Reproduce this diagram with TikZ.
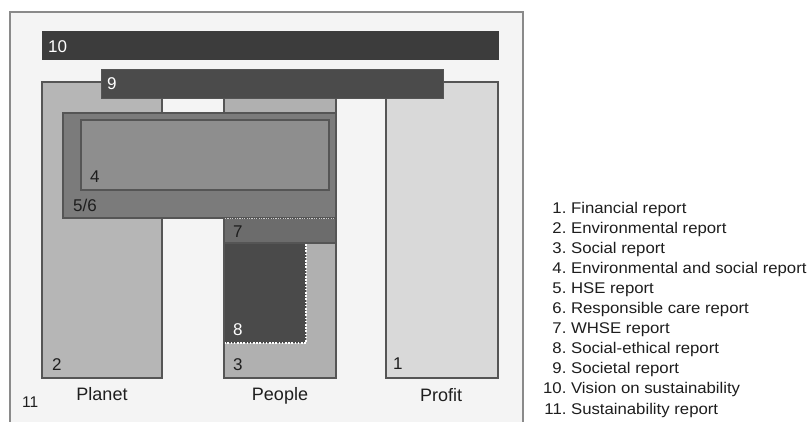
\documentclass[tikz,border=0pt]{standalone}
\usepackage{fontspec}
\setmainfont{Liberation Sans}
\newfontfamily\legfont[FakeStretch=1.08]{Liberation Sans}
\definecolor{bgframe}{HTML}{F4F4F4}
\definecolor{framec}{HTML}{8A8A8A}
\definecolor{edgec}{HTML}{555555}
\definecolor{cten}{HTML}{3C3C3C}
\definecolor{cnine}{HTML}{4B4B4B}
\definecolor{cplanet}{HTML}{B6B6B6}
\definecolor{cpeople}{HTML}{B0B0B0}
\definecolor{cprofit}{HTML}{D9D9D9}
\definecolor{cfivesix}{HTML}{7B7B7B}
\definecolor{cfour}{HTML}{8E8E8E}
\definecolor{cseven}{HTML}{6C6C6C}
\definecolor{ceight}{HTML}{4A4A4A}
\definecolor{textc}{HTML}{1E1E1E}
\tikzset{
  numlbl/.style={inner sep=0pt, anchor=base west, font=\fontsize{17}{17}\selectfont, text=textc},
  whitelbl/.style={numlbl, text=white},
  collbl/.style={inner sep=0pt, anchor=base, font=\fontsize{18}{18}\selectfont, text=textc},
  leglbl/.style={inner sep=0pt, anchor=base west, font=\legfont\fontsize{15.5}{15.5}\selectfont, text=textc},
}
\begin{document}
\begin{tikzpicture}[x=1pt, y=-1pt]
\useasboundingbox[fill=white] (0,0) rectangle (810,421);
% frame 11
\fill[bgframe] (10,12) rectangle (523,425);
\draw[framec, line width=1.4pt] (10,425) -- (10,12) -- (523,12) -- (523,425);
% columns
\fill[cplanet, draw=edgec, line width=1.3pt] (42,82) rectangle (162,378);
\fill[cpeople, draw=edgec, line width=1.3pt] (224,82) rectangle (336,378);
\fill[cprofit, draw=edgec, line width=1.3pt] (386,82) rectangle (498,378);
% 5/6
\fill[cfivesix, draw=edgec, line width=1.3pt] (63,113) rectangle (336,218);
% 7
\fill[cseven, draw=edgec, line width=1.3pt] (224,218) rectangle (336,243);
\draw[white!60!gray, line width=0.9pt, dash pattern=on 1.2pt off 1.2pt] (225,218) -- (335,218);
% 4
\fill[cfour, draw=edgec, line width=1.3pt] (81,120) rectangle (329,190);
% 8
\fill[ceight] (224,243) rectangle (306,343);
\draw[edgec, line width=1.3pt] (224,243) -- (336,243);
\draw[edgec, line width=1.3pt] (224,243) -- (224,378);
\draw[white, line width=1.4pt, dash pattern=on 1.6pt off 1.6pt] (306,244) -- (306,343) -- (225,343);
% bars
\fill[cnine, draw=edgec, line width=1pt] (101,69) rectangle (443,98);
\fill[cten, draw=cten, line width=1pt] (42,31) rectangle (498,59);
% labels
\node[whitelbl] (l10) at (48,52) {10};
\node[whitelbl] (l9) at (107,89) {9};
\node[numlbl] (l4) at (90,182) {4};
\node[numlbl] (l56) at (73,211) {5/6};
\node[numlbl] (l7) at (233,237) {7};
\node[whitelbl] (l8) at (233,335) {8};
\node[numlbl] (l2) at (52,370) {2};
\node[numlbl] (l3) at (233,370) {3};
\node[numlbl] (l1) at (393,369) {1};
\node[collbl] (planet) at (102,400) {Planet};
\node[collbl] (people) at (280,400) {People};
\node[collbl] (profit) at (441,401) {Profit};
\node[inner sep=0pt, anchor=base west, font=\fontsize{15.5}{15.5}\selectfont, text=textc] (l11) at (22,407) {11};
% legend
\foreach \n/\t [count=\i from 0] in {1./Financial report, 2./Environmental report, 3./Social report, 4./Environmental and social report, 5./HSE report, 6./Responsible care report, 7./WHSE report, 8./Social-ethical report, 9./Societal report, 10./Vision on sustainability, 11./Sustainability report}{
  \node[leglbl] (leg\i) at (543,213+20.1*\i) {\makebox[1.5em][r]{\n}\ \t};
}
\end{tikzpicture}
\end{document}
